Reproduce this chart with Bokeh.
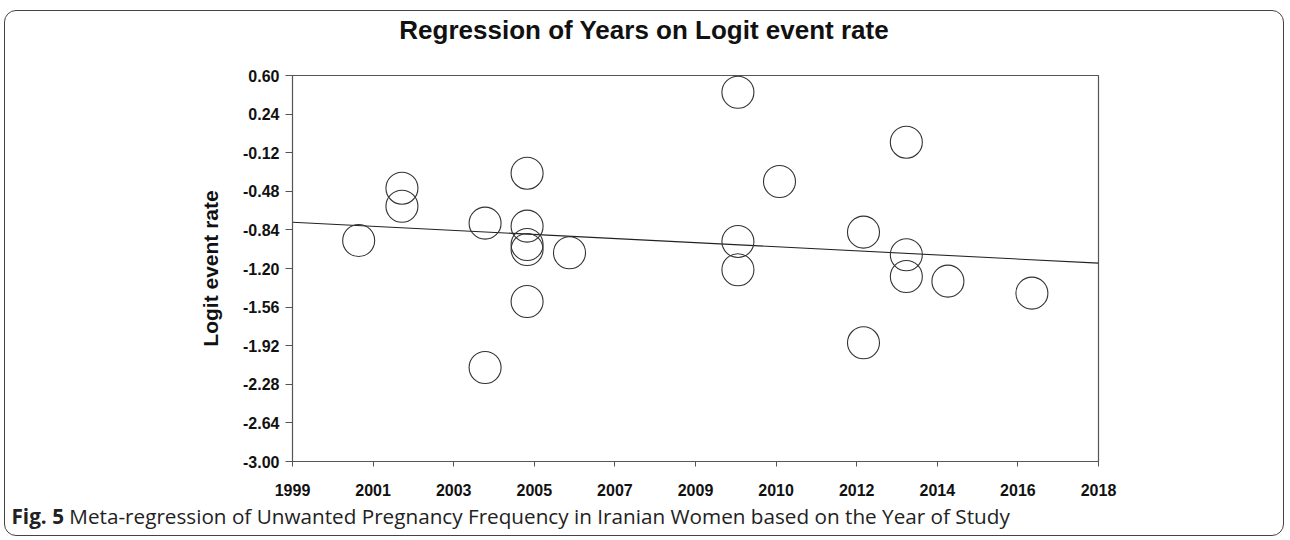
from bokeh.plotting import figure
from bokeh.models import FixedTicker, Range1d, Div
from bokeh.layouts import column
from bokeh.embed import file_html
from bokeh.resources import INLINE

# ---- data ----
study_year = [2000.56, 2001.58, 2001.58, 2003.54, 2003.54, 2004.53, 2004.53, 2004.53,
              2004.53, 2004.53, 2005.53, 2009.50, 2009.50, 2009.50, 2010.48, 2012.46,
              2012.46, 2013.47, 2013.47, 2013.47, 2014.45, 2016.43]
logit_rate = [-0.939, -0.451, -0.619, -0.777, -2.123, -0.311, -0.805, -0.976,
              -1.023, -1.508, -1.053, 0.444, -0.948, -1.212, -0.389, -0.861,
              -1.893, -0.022, -1.072, -1.275, -1.318, -1.430]
reg_year = [1999, 2018]
reg_value = [-0.768, -1.150]

x_ticks = [1999 + 1.9 * k for k in range(11)]
x_tick_labels = ["1999", "2001", "2003", "2005", "2007", "2009", "2010",
                 "2012", "2014", "2016", "2018"]
y_ticks = [0.60, 0.24, -0.12, -0.48, -0.84, -1.20, -1.56, -1.92, -2.28, -2.64, -3.00]
y_tick_labels = ["0.60", "0.24", "-0.12", "-0.48", "-0.84", "-1.20", "-1.56",
                 "-1.92", "-2.28", "-2.64", "-3.00"]

title_text = "Regression of Years on Logit event rate"
y_label = "Logit event rate"
caption_bold = "Fig. 5"
caption_text = "Meta-regression of Unwanted Pregnancy Frequency in Iranian Women based on the Year of Study"

title = Div(text=title_text, width=1278, height=40, margin=0,
            styles={"font-family": "'Liberation Sans'", "font-weight": "bold",
                    "font-size": "26px", "line-height": "26px", "color": "#111111",
                    "text-align": "center", "padding-top": "6px",
                    "box-sizing": "border-box"})

p = figure(frame_width=806, frame_height=386,
           x_range=Range1d(1999, 2018), y_range=Range1d(-3.0, 0.6),
           output_backend="svg", toolbar_location=None,
           min_border_left=287, min_border_right=185,
           min_border_top=24, min_border_bottom=45, title=None, margin=0)
p.background_fill_color = "white"
p.border_fill_color = "white"
p.outline_line_color = "#555555"
p.outline_line_width = 1.2
p.xgrid.visible = False
p.ygrid.visible = False

# regression line
p.line(reg_year, reg_value, line_color="#222222", line_width=1.1)
# studies
p.scatter(study_year, logit_rate, size=32, marker="circle",
          fill_color=None, line_color="#333333", line_width=1.1)

# axes
xa = p.xaxis[0]
xa.ticker = FixedTicker(ticks=x_ticks)
xa.major_label_overrides = {t: l for t, l in zip(x_ticks, x_tick_labels)}
xa.minor_tick_line_color = None
xa.major_tick_in = 0
xa.major_tick_out = 5
xa.axis_line_color = "#555555"
xa.major_tick_line_color = "#555555"
xa.major_label_text_font = "Liberation Sans"
xa.major_label_text_font_style = "bold"
xa.major_label_text_font_size = "16px"
xa.major_label_text_color = "#111111"
xa.major_label_standoff = 17

ya = p.yaxis[0]
ya.ticker = FixedTicker(ticks=y_ticks)
ya.major_label_overrides = {t: l for t, l in zip(y_ticks, y_tick_labels)}
ya.minor_tick_line_color = None
ya.major_tick_in = 0
ya.major_tick_out = 7
ya.axis_line_color = "#555555"
ya.major_tick_line_color = "#555555"
ya.major_label_text_font = "Liberation Sans"
ya.major_label_text_font_style = "bold"
ya.major_label_text_font_size = "16px"
ya.major_label_text_color = "#111111"
ya.major_label_standoff = 6
ya.axis_label = y_label
ya.axis_label_text_font = "Liberation Sans"
ya.axis_label_text_font_style = "bold"
ya.axis_label_text_font_size = "21px"
ya.axis_label_text_color = "#111111"
ya.axis_label_standoff = 18

caption = Div(text=f"<b>{caption_bold}</b> {caption_text}", width=1278, height=29,
              margin=0,
              styles={"font-family": "'Open Sans'", "font-size": "20.7px",
                      "line-height": "21px", "color": "#222222",
                      "padding": "0 0 0 6.5px", "box-sizing": "border-box",
                      "white-space": "nowrap"})

layout = column(title, p, caption, spacing=0,
                styles={"border": "1.5px solid #444444", "border-radius": "12px",
                        "margin": "10px 0 0 4px", "background": "white"})

open("out.html", "w").write(file_html(layout, INLINE))
